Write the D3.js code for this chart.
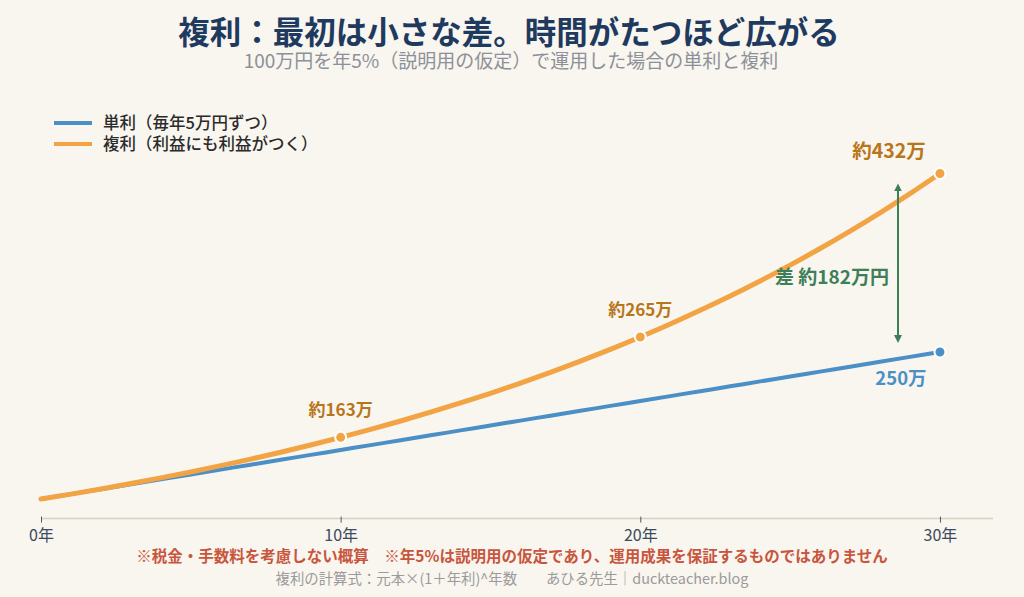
<!DOCTYPE html>
<html>
<head>
<meta charset="utf-8">
<script src="https://cdn.jsdelivr.net/npm/d3@7"></script>
<style>
  html, body { margin: 0; padding: 0; background: #f9f5ef; }
  svg { display: block; font-family: "Noto Sans CJK JP", "Noto Sans", sans-serif; }
</style>
</head>
<body>
<svg id="chart"></svg>
<script>
var width = 1024, height = 597;

// 年数
var years = [0,1,2,3,4,5,6,7,8,9,10,11,12,13,14,15,16,17,18,19,20,21,22,23,24,25,26,27,28,29,30];
// 単利（毎年5万円ずつ）
var simple = [100,105,110,115,120,125,130,135,140,145,150,155,160,165,170,175,180,185,190,195,200,205,210,215,220,225,230,235,240,245,250];
// 複利（年5%）
var compound = [100,105,110.25,115.76,121.55,127.63,134.01,140.71,147.75,155.13,162.89,171.03,179.59,188.56,197.99,
                207.89,218.29,229.2,240.66,252.7,265.33,278.6,292.53,307.15,322.51,338.64,355.57,373.35,392.01,411.61,432.19];
var xTicks = [0, 10, 20, 30];
var markYears = [10, 20, 30];
var markLabels = ["約163万", "約265万", "約432万"];
var simpleEndLabel = "250万";
var diffLabel = "差 約182万円";
var legendLabels = ["単利（毎年5万円ずつ）", "複利（利益にも利益がつく）"];

var blue = "#4a8fc6", orange = "#f2a444", orangeText = "#b8761a", green = "#3d7f58";

var x = d3.scaleLinear().domain([0, 31.77]).range([41, 993]);
var y = d3.scaleLinear().domain([80, 460]).range([518.6, 146.2]);

var svg = d3.select("#chart")
    .attr("width", width)
    .attr("height", height);

svg.append("rect")
    .attr("width", width)
    .attr("height", height)
    .attr("fill", "#f9f5ef");

// タイトル
svg.append("text")
    .attr("x", 509).attr("y", 44)
    .attr("text-anchor", "middle")
    .style("font-size", "31.5px")
    .style("font-weight", "bold")
    .attr("fill", "#1f3a5f")
    .text("複利：最初は小さな差。時間がたつほど広がる");

svg.append("text")
    .attr("x", 511).attr("y", 68)
    .attr("text-anchor", "middle")
    .style("font-size", "19px")
    .attr("fill", "#8c9199")
    .text("100万円を年5%（説明用の仮定）で運用した場合の単利と複利");

// 凡例
[blue, orange].forEach(function(c, i) {
  var ly = 123 + i * 21;
  svg.append("line")
      .attr("x1", 54).attr("x2", 92)
      .attr("y1", ly).attr("y2", ly)
      .attr("stroke", c)
      .attr("stroke-width", 4);
  svg.append("text")
      .attr("x", 103).attr("y", ly + 6)
      .style("font-size", "16.5px")
      .style("font-weight", "500")
      .attr("fill", "#2b2b2b")
      .text(legendLabels[i]);
});

// x軸
var xAxis = svg.append("g")
    .attr("transform", "translate(0," + y(80) + ")")
    .call(d3.axisBottom(x).tickValues(xTicks).tickSize(4).tickFormat(function(d) { return d + "年"; }));
xAxis.select(".domain").attr("stroke", "#d9d2bf").attr("stroke-width", 1.5).attr("d", "M" + x(0) + ",0H" + x(31.77));
xAxis.selectAll(".tick line").attr("stroke", "#555").attr("y1", -2);
xAxis.selectAll(".tick text")
    .attr("dy", 0).attr("y", 22)
    .style("font-size", "16px")
    .style("font-family", "'Noto Sans CJK JP', sans-serif")
    .attr("fill", "#3b4b5e");

var line = d3.line()
    .x(function(d, i) { return x(years[i]); })
    .y(function(d) { return y(d); })
    .curve(d3.curveMonotoneX);

svg.append("path")
    .datum(simple)
    .attr("d", line)
    .attr("fill", "none")
    .attr("stroke", blue)
    .attr("stroke-width", 4)
    .attr("stroke-linecap", "round");

svg.append("path")
    .datum(compound)
    .attr("d", line)
    .attr("fill", "none")
    .attr("stroke", orange)
    .attr("stroke-width", 5)
    .attr("stroke-linecap", "round");

// 点
svg.append("circle")
    .attr("cx", x(30)).attr("cy", y(simple[30]))
    .attr("r", 5.5)
    .attr("fill", blue)
    .attr("stroke", "#fff").attr("stroke-width", 2);

markYears.forEach(function(yr, i) {
  svg.append("circle")
      .attr("cx", x(yr)).attr("cy", y(compound[yr]))
      .attr("r", 5.5)
      .attr("fill", orange)
      .attr("stroke", "#fff").attr("stroke-width", 2);
  svg.append("text")
      .attr("x", i === 2 ? x(yr) - 51 : x(yr))
      .attr("y", y(compound[yr]) - (i === 2 ? 15 : 21))
      .attr("text-anchor", "middle")
      .style("font-size", i === 2 ? "19.5px" : "17px")
      .style("font-weight", "bold")
      .attr("fill", orangeText)
      .text(markLabels[i]);
});

svg.append("text")
    .attr("x", x(30) - 39).attr("y", y(simple[30]) + 33)
    .attr("text-anchor", "middle")
    .style("font-size", "18.5px")
    .style("font-weight", "bold")
    .attr("fill", blue)
    .text(simpleEndLabel);

// 差の矢印
var defs = svg.append("defs");
defs.append("marker")
    .attr("id", "arr")
    .attr("viewBox", "0 0 10 10")
    .attr("refX", 5).attr("refY", 5)
    .attr("markerWidth", 4).attr("markerHeight", 4)
    .attr("orient", "auto-start-reverse")
    .append("path")
    .attr("d", "M0,0L10,5L0,10Z")
    .attr("fill", green);

var ax = x(28.6);
svg.append("line")
    .attr("x1", ax).attr("x2", ax)
    .attr("y1", y(compound[30]) + 14).attr("y2", y(simple[30]) - 13)
    .attr("stroke", green)
    .attr("stroke-width", 2)
    .attr("marker-start", "url(#arr)")
    .attr("marker-end", "url(#arr)");

svg.append("text")
    .attr("x", ax - 9).attr("y", 284)
    .attr("text-anchor", "end")
    .style("font-size", "19px")
    .style("font-weight", "bold")
    .attr("fill", green)
    .text(diffLabel);

// 注記
svg.append("text")
    .attr("x", 512).attr("y", 562)
    .attr("text-anchor", "middle")
    .style("font-size", "15.5px")
    .style("font-weight", "bold")
    .attr("fill", "#c8553d")
    .text("※税金・手数料を考慮しない概算　※年5%は説明用の仮定であり、運用成果を保証するものではありません");

svg.append("text")
    .attr("x", 512).attr("y", 584)
    .attr("text-anchor", "middle")
    .style("font-size", "14.4px")
    .attr("fill", "#9a9a9a")
    .text("複利の計算式：元本×(1＋年利)^年数　　あひる先生｜duckteacher.blog");
</script>
</body>
</html>
